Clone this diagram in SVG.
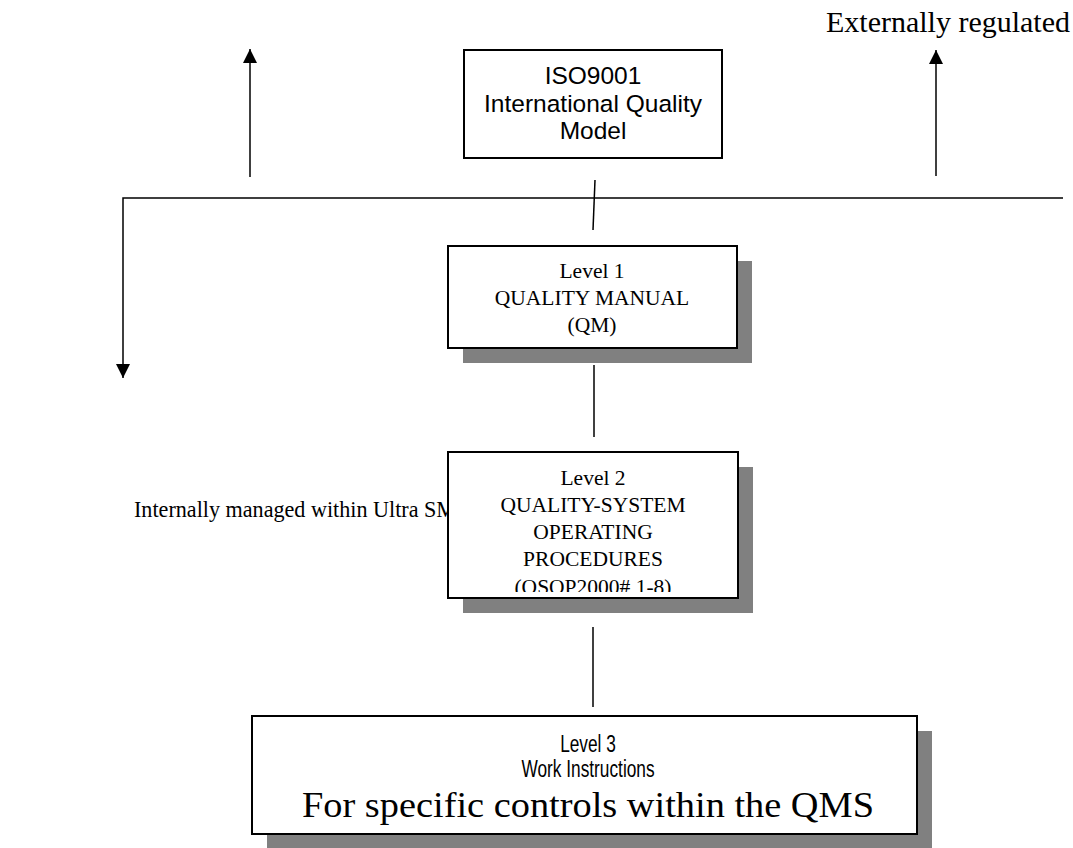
<svg xmlns="http://www.w3.org/2000/svg" width="1073" height="848" viewBox="0 0 1073 848">
<defs>
<style>
.box{fill:#fff;stroke:#000;stroke-width:2}
.sh{fill:#808080}
.ln{fill:none;stroke:#000;stroke-width:1.5}
.sans{font-family:"Liberation Sans",Arial,sans-serif;fill:#000;text-anchor:middle}
.serif{font-family:"Liberation Serif","Times New Roman",serif;fill:#000}
.mid{text-anchor:middle}
</style>
<marker id="arr" viewBox="0 0 10 10" refX="10" refY="5" markerWidth="15" markerHeight="14" orient="auto" markerUnits="userSpaceOnUse">
<path d="M0,0 L10,5 L0,10 z" fill="#000"/>
</marker>
<clipPath id="clip2"><rect x="449" y="453" width="288" height="139"/></clipPath>
</defs>
<rect width="1073" height="848" fill="#fff"/>

<g id="labels">
<text class="serif" x="826" y="32" font-size="29" textLength="244" lengthAdjust="spacingAndGlyphs">Externally regulated</text>
<text class="serif" x="134" y="517" font-size="24" textLength="322" lengthAdjust="spacingAndGlyphs">Internally managed within Ultra SM</text>
</g>

<g id="connectors">
<line class="ln" x1="250" y1="177" x2="250" y2="49" marker-end="url(#arr)"/>
<line class="ln" x1="936" y1="176" x2="936" y2="50" marker-end="url(#arr)"/>
<path class="ln" d="M1063,198 H123 V378" marker-end="url(#arr)"/>
<line class="ln" x1="595" y1="180" x2="593" y2="230"/>
<line class="ln" x1="594" y1="365" x2="594" y2="437"/>
<line class="ln" x1="593" y1="627" x2="593" y2="707"/>
</g>

<g id="iso">
<rect class="box" x="464" y="50" width="258" height="108"/>
<text class="sans" font-size="24.5" x="593" y="84">ISO9001</text>
<text class="sans" font-size="24.5" x="593" y="112">International Quality</text>
<text class="sans" font-size="24.5" x="593" y="139">Model</text>
</g>

<g id="level1">
<rect class="sh" x="463" y="261" width="289" height="102"/>
<rect class="box" x="448" y="246" width="289" height="102"/>
<text class="serif mid" font-size="21.5" x="592" y="278">Level 1</text>
<text class="serif mid" font-size="21.5" x="592" y="305">QUALITY MANUAL</text>
<text class="serif mid" font-size="21.5" x="592" y="332">(QM)</text>
</g>

<g id="level2">
<rect class="sh" x="463" y="467" width="290" height="146"/>
<rect class="box" x="448" y="452" width="290" height="146"/>
<g clip-path="url(#clip2)">
<text class="serif mid" font-size="21.5" x="593" y="485">Level 2</text>
<text class="serif mid" font-size="21.5" x="593" y="512">QUALITY-SYSTEM</text>
<text class="serif mid" font-size="21.5" x="593" y="539">OPERATING</text>
<text class="serif mid" font-size="21.5" x="593" y="566">PROCEDURES</text>
<text class="serif mid" font-size="21.5" x="593" y="594">(OSOP2000# 1-8)</text>
</g>
</g>

<g id="level3">
<rect class="sh" x="267" y="731" width="665" height="118"/>
<rect class="box" x="252" y="716" width="665" height="118"/>
<text class="sans" font-size="24" transform="translate(588,752) scale(0.72,1)">Level 3</text>
<text class="sans" font-size="24" transform="translate(588,777) scale(0.72,1)">Work Instructions</text>
<text class="serif mid" font-size="36" x="588" y="817" textLength="572" lengthAdjust="spacingAndGlyphs">For specific controls within the QMS</text>
</g>
</svg>
